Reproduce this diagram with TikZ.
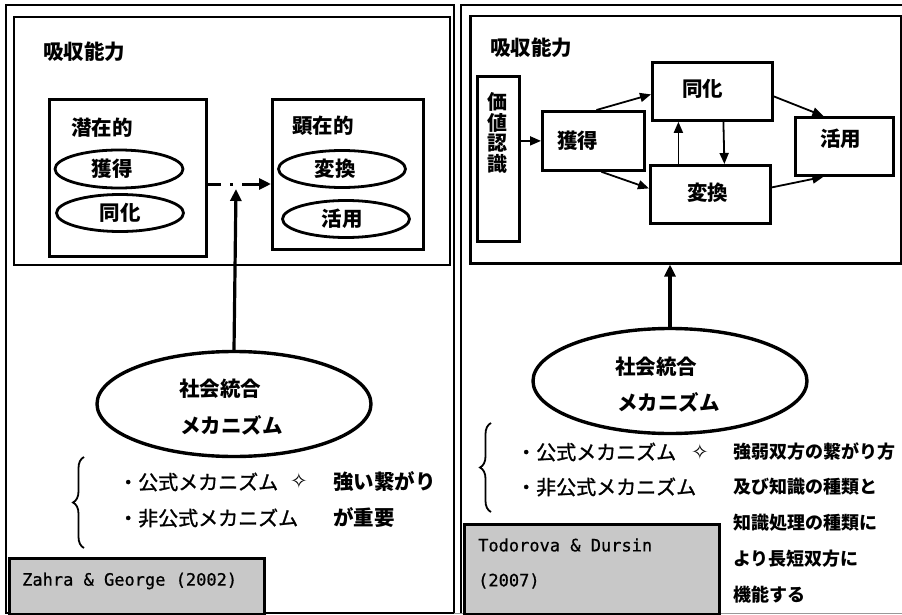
\documentclass[tikz,border=0pt]{standalone}
\usepackage{fontspec}
\newfontfamily\jp{Noto Sans CJK JP}
\newfontfamily\jpm{Noto Sans CJK JP}[FakeBold=1.3]
\newfontfamily\dv{DejaVu Sans}
\newfontfamily\mono{DejaVu Sans Mono}[FakeBold=0.8]
\usetikzlibrary{shapes.geometric,arrows.meta,decorations.pathreplacing,calc}
\tikzset{
  txt/.style={inner sep=0pt, anchor=west, font=\jp\bfseries\fontsize{20.5}{23}\selectfont},
  listtxt/.style={inner sep=0pt, anchor=west, font=\jpm\fontsize{20}{23}\selectfont},
  smalltxt/.style={inner sep=0pt, anchor=west, font=\jp\bfseries\fontsize{18}{21}\selectfont},
  frame/.style={draw, line width=2.5pt},
  boxn/.style={draw, line width=3pt, inner sep=0pt, anchor=north west},
  ell/.style={draw, ellipse, line width=2.8pt, inner sep=0pt, font=\jp\bfseries\fontsize{20.5}{23}\selectfont},
  bigell/.style={draw, ellipse, line width=3.4pt, inner sep=0pt, minimum width=274pt, minimum height=105pt},
  graybox/.style={draw, line width=2.6pt, fill={rgb,255:red,200;green,200;blue,200}, inner sep=0pt, anchor=north west},
  monotxt/.style={inner sep=0pt, anchor=west, font=\mono\fontsize{17}{20}\selectfont},
  arr/.style={line width=1.8pt, -{Triangle[length=11pt,width=9pt]}},
  thickarr/.style={line width=3.2pt, -{Triangle[length=12pt,width=11pt]}},
  star/.style={inner sep=0pt, font=\dv\fontsize{21}{24}\selectfont},
  bracestyle/.style={decorate, decoration={brace, amplitude=11pt}, line width=1.8pt}
}
\begin{document}
\begin{tikzpicture}[x=1pt,y=-1pt]
\useasboundingbox (0,0) rectangle (902,615);
\fill[white] (0,0) rectangle (902,615);

% ---------- left panel ----------
\draw[frame] (6,5) rectangle (454,613);
\draw[frame] (14,17) rectangle (450,265);
\node[txt] (absL) at (43,52) {吸収能力};

\node[boxn, minimum width=157pt, minimum height=157pt] (latent) at (48,98) {};
\node[txt] (latentT) at (71,128) {潜在的};
\node[ell, minimum width=128pt, minimum height=38pt] (acqL) at (119,169) {\hspace*{-14pt}獲得};
\node[ell, minimum width=127pt, minimum height=37pt] (assL) at (120,213) {同化};

\node[boxn, minimum width=151pt, minimum height=150pt] (manifest) at (271,98) {};
\node[txt] (manifestT) at (292,126) {顕在的};
\node[ell, minimum width=127pt, minimum height=37pt] (trL) at (342,169) {\hspace*{-14pt}変換};
\node[ell, minimum width=127pt, minimum height=37pt] (expL) at (346,219) {\hspace*{-8pt}活用};

\draw[line width=3pt, dash pattern=on 13pt off 9pt on 3pt off 9pt on 30pt, -{Triangle[length=12pt,width=11pt]}]
  (latent.east |- 0,184) -- (manifest.west |- 0,184);
\coordinate (meet) at (236,189);

\node[bigell] (socL) at (234,404) {};
\node[txt] at (179,389) {社会統合};
\node[txt] at (180,425) {メカニズム};
\draw[thickarr] (socL.north) -- (meet);

\draw[bracestyle] (84,548) -- (84,457);
\node[listtxt] (fL) at (118,482) {・公式メカニズム};
\node[star] at (299,481) {✧};
\node[listtxt] (nfL) at (118,518) {・非公式メカニズム};
\node[txt] at (333,482) {強い繋がり};
\node[txt] at (333,518) {が重要};

\node[graybox, minimum width=255pt, minimum height=56pt] (refL) at (8,557) {};
\node[monotxt] at (22,581) {Zahra \& George (2002)};

% ---------- right panel ----------
\draw[frame] (910,5) -- (461,5) -- (461,613);
\draw[line width=0.8pt, black!40] (454,613) -- (902,613);
\node[boxn, line width=2.5pt, minimum width=431pt, minimum height=247pt] (inR) at (469,15) {};
\node[txt] (absR) at (490,48) {吸収能力};

\node[boxn, line width=2.8pt, minimum width=42pt, minimum height=165pt] (vr) at (476,75) {};
\node[inner sep=0pt, align=center, font=\jp\bfseries\fontsize{20}{20.5}\selectfont] at (497,133) {価\\値\\認\\識};

\node[boxn, line width=2.8pt, minimum width=102pt, minimum height=59pt] (acq) at (541,110) {};
\node[txt] at (557,141) {獲得};
\node[boxn, line width=2.8pt, minimum width=120pt, minimum height=58pt] (ass) at (651,61) {};
\node[txt] at (682,89) {同化};
\node[boxn, line width=2.8pt, minimum width=120pt, minimum height=58pt] (tr) at (649,164) {};
\node[txt] at (687,193) {変換};
\node[boxn, line width=2.8pt, minimum width=98pt, minimum height=58pt] (ex) at (794,116) {};
\node[txt] at (820,139) {活用};

\draw[arr] (vr.east |- acq.west) -- (acq.west);
\draw[arr] ([xshift=3pt]acq.north) -- ([yshift=-3pt]ass.west);
\draw[arr] ([xshift=8pt]acq.south) -- ([yshift=6pt]tr.west);
\draw[arr] ([xshift=-32pt]tr.north) -- ([xshift=-34pt]ass.south);
\draw[arr] ([xshift=11pt]ass.south) -- ([xshift=14pt]tr.north);
\draw[arr] ([yshift=-5pt]ass.east) -- ([xshift=-21pt]ex.north);
\draw[arr] ([yshift=7pt]tr.east) -- ([xshift=-21pt]ex.south);

\node[bigell] (socR) at (670,381) {};
\node[txt] at (615,367) {社会統合};
\node[txt] at (617,402) {メカニズム};
\draw[thickarr] (socR.north) -- (socR.north |- inR.south);

\draw[bracestyle] (491,512) -- (491,423);
\node[listtxt] at (516,452) {・公式メカニズム};
\node[star] at (700,452) {✧};
\node[listtxt] at (516,487) {・非公式メカニズム};

\node[smalltxt] at (733,452) {強弱双方の繋がり方};
\node[smalltxt] at (733,487) {及び知識の種類と};
\node[smalltxt] at (733,523) {知識処理の種類に};
\node[smalltxt] at (733,559) {より長短双方に};
\node[smalltxt] at (733,595) {機能する};

\node[graybox, minimum width=255pt, minimum height=90pt] (refR) at (463,523) {};
\node[monotxt] at (478,545) {Todorova \& Dursin};
\node[monotxt] at (478,581) {(2007)};
\end{tikzpicture}
\end{document}
